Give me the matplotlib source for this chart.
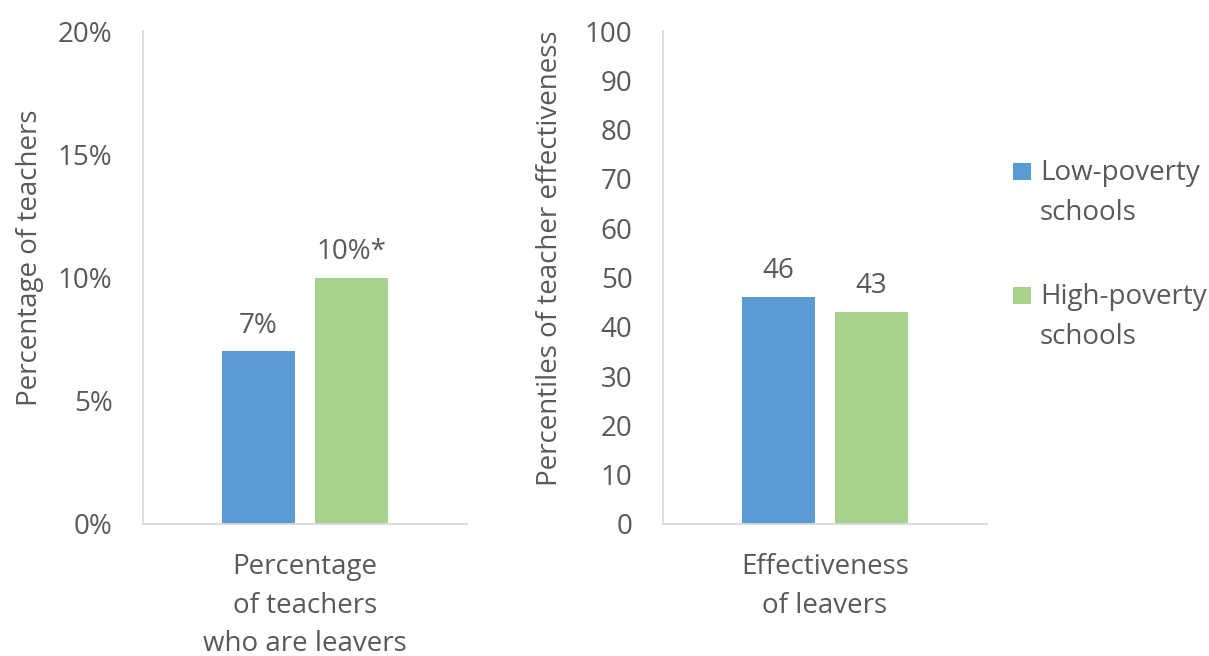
import matplotlib
matplotlib.use("Agg")
import matplotlib.pyplot as plt
from matplotlib.patches import Rectangle

plt.rcParams['font.family'] = ['Open Sans', 'DejaVu Sans']

# Data
series = ["Low-poverty\nschools", "High-poverty\nschools"]
colors = ["#5B9BD5", "#A9D18E"]

left_category = "Percentage\nof teachers\nwho are leavers"
left_values = [7, 10]
left_labels = ["7%", "10%*"]
left_ticks = [0, 5, 10, 15, 20]
left_ticklabels = ["0%", "5%", "10%", "15%", "20%"]

right_category = "Effectiveness\nof leavers"
right_values = [46, 43]
right_labels = ["46", "43"]
right_ticks = list(range(0, 101, 10))

text_color = "#595959"
axis_color = "#D9D9D9"
fs = 20
W, H = 1209, 656

fig = plt.figure(figsize=(W / 100, H / 100), dpi=100)
ax1 = fig.add_axes([143 / W, 1 - 524 / H, 324 / W, 493 / H])
ax2 = fig.add_axes([663 / W, 1 - 524 / H, 324 / W, 493 / H])

bar_w = 0.225
offsets = [-0.1435, 0.1435]


def draw_panel(ax, values, labels, category, ticks, ticklabels, ymax, ylabel):
    for off, v, lab, c in zip(offsets, values, labels, colors):
        ax.bar(off, v, width=bar_w, color=c)
        ax.text(off, v + ymax * 0.024, lab, ha="center", va="bottom",
                fontsize=fs, color=text_color)
    ax.set_xlim(-0.5, 0.5)
    ax.set_ylim(0, ymax)
    ax.set_yticks(ticks)
    ax.set_yticklabels(ticklabels)
    ax.set_xticks([0])
    ax.set_xticklabels([category], linespacing=1.5)
    ax.tick_params(axis="both", length=0, labelsize=fs, labelcolor=text_color)
    ax.tick_params(axis="x", pad=21)
    ax.tick_params(axis="y", pad=22)
    for s in ["top", "right"]:
        ax.spines[s].set_visible(False)
    for s in ["left", "bottom"]:
        ax.spines[s].set_color(axis_color)
        ax.spines[s].set_linewidth(1.3)
    ax.set_ylabel(ylabel, fontsize=fs, color=text_color)
    ax.yaxis.set_label_coords(-0.306, 0.54)


draw_panel(ax1, left_values, left_labels, left_category, left_ticks,
           left_ticklabels, 20, "Percentage of teachers")
draw_panel(ax2, right_values, right_labels, right_category, right_ticks,
           [str(t) for t in right_ticks], 100, "Percentiles of teacher effectiveness")

# Legend: colour key square beside the first line of each two-line label
legend_tops = [163, 287]
for top, lab, c in zip(legend_tops, series, colors):
    fig.add_artist(Rectangle((1013 / W, 1 - (top + 17) / H), 18 / W, 17 / H,
                             transform=fig.transFigure, facecolor=c, edgecolor="none"))
    fig.text(1040 / W, 1 - (top - 4) / H, lab, ha="left", va="top",
             fontsize=fs, color=text_color, linespacing=1.55)

fig.savefig("out.png", dpi=100, facecolor="white")
